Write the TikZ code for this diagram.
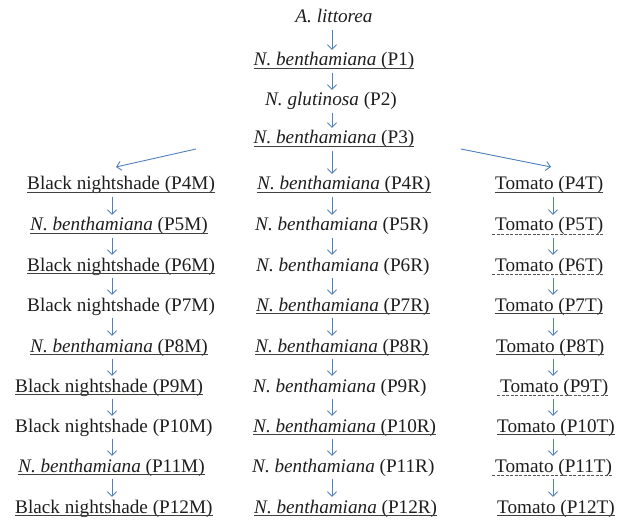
\documentclass[tikz,border=0pt]{standalone}
\usepackage{fontspec}
\setmainfont{Liberation Serif}
\newfontfamily\tnr{Liberation Serif}
\usetikzlibrary{arrows.meta,calc}
\definecolor{arrblue}{RGB}{79,129,189}
\definecolor{txt}{RGB}{30,30,30}
\begin{document}
\begin{tikzpicture}[x=1pt,y=-1pt,
  lbl/.style={inner sep=0pt, text height=13pt, text depth=4pt, anchor=base west, text=txt, font=\tnr\fontsize{19.2}{23}\selectfont},
  lblc/.style={lbl, anchor=base},
  arr/.style={draw=arrblue, line width=0.9pt, -{Straight Barb[length=4.5pt,width=9pt]}, shorten <=2.5pt, shorten >=3pt},
  ulsolid/.style={draw=txt!85, line width=1pt},
  uldash/.style={draw=txt!75, line width=0.9pt, dash pattern=on 3pt off 1.5pt},
]
\useasboundingbox (0,0) rectangle (626,521);
% column axes for the arrows
\coordinate (cL) at (112,0);
\coordinate (cM) at (332,0);
\coordinate (cR) at (553,0);
% top chain
\node[lblc] (A)  at (334,23)  {\textit{A. littorea}};
\node[lblc] (P1) at (334,66)  {\textit{N. benthamiana} (P1)};
\node[lblc] (P2) at (331,106) {\textit{N. glutinosa} (P2)};
\node[lblc] (P3) at (334,144) {\textit{N. benthamiana} (P3)};
% left column
\node[lbl] (M4)  at (27,190)  {Black nightshade (P4M)};
\node[lbl] (M5)  at (30,231)  {\textit{N. benthamiana} (P5M)};
\node[lbl] (M6)  at (27,271)  {Black nightshade (P6M)};
\node[lbl] (M7)  at (27,311)  {Black nightshade (P7M)};
\node[lbl] (M8)  at (30,352)  {\textit{N. benthamiana} (P8M)};
\node[lbl] (M9)  at (15,392)  {Black nightshade (P9M)};
\node[lbl] (M10) at (15,432)  {Black nightshade (P10M)};
\node[lbl] (M11) at (18,472)  {\textit{N. benthamiana} (P11M)};
\node[lbl] (M12) at (15,513)  {Black nightshade (P12M)};
% middle column
\node[lbl] (R4)  at (257,190) {\textit{N. benthamiana} (P4R)};
\node[lbl] (R5)  at (255,231) {\textit{N. benthamiana} (P5R)};
\node[lbl] (R6)  at (256,271) {\textit{N. benthamiana} (P6R)};
\node[lbl] (R7)  at (256,311) {\textit{N. benthamiana} (P7R)};
\node[lbl] (R8)  at (255,352) {\textit{N. benthamiana} (P8R)};
\node[lbl] (R9)  at (253,392) {\textit{N. benthamiana} (P9R)};
\node[lbl] (R10) at (253,432) {\textit{N. benthamiana} (P10R)};
\node[lbl] (R11) at (252,472) {\textit{N. benthamiana} (P11R)};
\node[lbl] (R12) at (254,513) {\textit{N. benthamiana} (P12R)};
% right column
\node[lbl] (T4)  at (495,190) {Tomato (P4T)};
\node[lbl] (T5)  at (495,231) {Tomato (P5T)};
\node[lbl] (T6)  at (495,271) {Tomato (P6T)};
\node[lbl] (T7)  at (495,311) {Tomato (P7T)};
\node[lbl] (T8)  at (496,352) {Tomato (P8T)};
\node[lbl] (T9)  at (500,392) {Tomato (P9T)};
\node[lbl] (T10) at (497,432) {Tomato (P10T)};
\node[lbl] (T11) at (495,472) {Tomato (P11T)};
\node[lbl] (T12) at (497,513) {Tomato (P12T)};
% underlines
\foreach \n in {P1,P3,M4,M5,M6,M8,M9,M11,M12,R4,R7,R8,R10,R12,T4,T7,T8,T10,T12}
  \draw[ulsolid] ([yshift=-2.8pt]\n.base west) -- ([yshift=-2.8pt]\n.base east);
\foreach \n in {T5,T6,T9,T11}
  \draw[uldash] ([xshift=-3pt,yshift=-3.5pt]\n.base west) -- ([yshift=-3.5pt]\n.base east);
% top arrows
\draw[arr] (A.south -| cM) -- (P1.north -| cM);
\draw[arr] (P1.south -| cM) -- (P2.north -| cM);
\draw[arr] (P2.south -| cM) -- (P3.north -| cM);
\draw[arr] (P3.south -| cM) -- (R4.north -| cM);
% diagonal arrows
\coordinate (dLs) at (196,149);
\coordinate (dLe) at (116,167);
\coordinate (dRs) at (461,149);
\coordinate (dRe) at (551,167);
\draw[arr, shorten <=0pt, shorten >=0pt] (dLs) -- (dLe);
\draw[arr, shorten <=0pt, shorten >=0pt] (dRs) -- (dRe);
% column arrows
\foreach \a/\b in {4/5,5/6,6/7,7/8,8/9,9/10,10/11,11/12} {
  \draw[arr] (M\a.south -| cL) -- (M\b.north -| cL);
  \draw[arr] (R\a.south -| cM) -- (R\b.north -| cM);
  \draw[arr] (T\a.south -| cR) -- (T\b.north -| cR);
}
\end{tikzpicture}
\end{document}
